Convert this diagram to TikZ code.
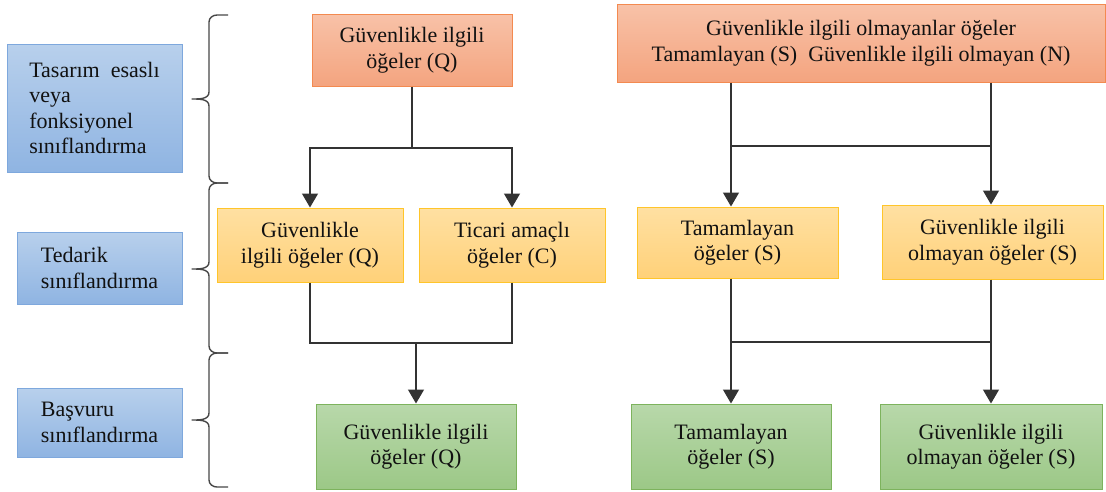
\documentclass[tikz,border=0pt]{standalone}
\usepackage{fontspec}
\setmainfont{Liberation Serif}
\usetikzlibrary{arrows.meta}
\definecolor{txt}{HTML}{111111}
\definecolor{ln}{HTML}{333333}
\definecolor{BlueTop}{HTML}{B8D0EC}
\definecolor{BlueBot}{HTML}{8FB4E2}
\definecolor{BlueBord}{HTML}{7EA8DD}
\definecolor{OrTop}{HTML}{F8C2A8}
\definecolor{OrBot}{HTML}{F4A47F}
\definecolor{OrBord}{HTML}{F38A50}
\definecolor{YeTop}{HTML}{FFE0A2}
\definecolor{YeBot}{HTML}{FFD179}
\definecolor{YeBord}{HTML}{FFC52A}
\definecolor{GrTop}{HTML}{B8D8AA}
\definecolor{GrBot}{HTML}{9CC887}
\definecolor{GrBord}{HTML}{7DB35D}
\tikzset{
  x=1pt, y=-1pt,
  box/.style={draw, line width=1pt, inner sep=0pt, align=center, text=txt,
    font=\fontsize{22}{25.5}\selectfont},
  bluebox/.style={box, draw=BlueBord, top color=BlueTop, bottom color=BlueBot, align=left},
  orangebox/.style={box, draw=OrBord, top color=OrTop, bottom color=OrBot},
  yellowbox/.style={box, draw=YeBord, top color=YeTop, bottom color=YeBot},
  greenbox/.style={box, draw=GrBord, top color=GrTop, bottom color=GrBot},
  conn/.style={draw=ln, line width=1.3pt},
  arr/.style={conn, -{Triangle[width=16pt,length=14pt]}},
  bracestyle/.style={draw=ln!90, line width=1.4pt, line join=round}
}
\begin{document}
\begin{tikzpicture}
\useasboundingbox (0,0) rectangle (1106,491);
\fill[white] (0,0) rectangle (1106,491);
% left classification boxes
\node[bluebox, minimum width=175pt, minimum height=128pt] (B1) at (94.5,108) {Tasarım\ \ esaslı\\veya\\fonksiyonel\\sınıflandırma};
\node[bluebox, minimum width=165pt, minimum height=72pt] (B2) at (99.5,268) {Tedarik\\sınıflandırma};
\node[bluebox, minimum width=165pt, minimum height=69pt] (B3) at (99.5,422.5) {Başvuru\\sınıflandırma};
% braces
\draw[bracestyle] (228,15) -- (217,15) to[out=180,in=90] (209,22) -- (209,92) to[out=-90,in=0] (192,99) to[out=0,in=90] (209,106) -- (209,176) to[out=-90,in=180] (217,183) -- (228,183);
\draw[bracestyle] (228,183) -- (217,183) to[out=180,in=90] (209,190) -- (209,262) to[out=-90,in=0] (192,269) to[out=0,in=90] (209,276) -- (209,346) to[out=-90,in=180] (217,353) -- (228,353);
\draw[bracestyle] (228,353) -- (217,353) to[out=180,in=90] (209,360) -- (209,413) to[out=-90,in=0] (192,420) to[out=0,in=90] (209,427) -- (209,480) to[out=-90,in=180] (217,487) -- (228,487);
% top row
\node[orangebox, minimum width=200pt, minimum height=72pt] (O1) at (412,50) {Güvenlikle ilgili\\öğeler (Q)};
\node[orangebox, minimum width=488pt, minimum height=78pt] (O2) at (861,43) {Güvenlikle ilgili olmayanlar öğeler\\Tamamlayan (S)\ \ Güvenlikle ilgili olmayan (N)};
% middle row
\node[yellowbox, minimum width=186pt, minimum height=74pt] (Y1) at (310,245) {Güvenlikle\\ilgili öğeler (Q)};
\node[yellowbox, minimum width=186pt, minimum height=74pt] (Y2) at (512,245) {Ticari amaçlı\\öğeler (C)};
\node[yellowbox, minimum width=201pt, minimum height=71pt] (Y3) at (737.5,242.5) {Tamamlayan\\öğeler (S)};
\node[yellowbox, minimum width=221pt, minimum height=74pt] (Y4) at (992.5,242) {Güvenlikle ilgili\\olmayan öğeler (S)};
% bottom row
\node[greenbox, minimum width=200pt, minimum height=85pt] (G1) at (416,446.5) {Güvenlikle ilgili\\öğeler (Q)};
\node[greenbox, minimum width=200pt, minimum height=85pt] (G2) at (731,446.5) {Tamamlayan\\öğeler (S)};
\node[greenbox, minimum width=222pt, minimum height=85pt] (G3) at (991,446.5) {Güvenlikle ilgili\\olmayan öğeler (S)};
% connectors left
\coordinate (j1) at (412,148);
\draw[conn] (O1.south) -- (j1);
\draw[arr] (j1) -| (Y1.north);
\draw[arr] (j1) -| (Y2.north);
\coordinate (j2) at (416,343);
\draw[conn] (Y1.south) |- (j2);
\draw[conn] (Y2.south) |- (j2);
\draw[arr] (j2) -- (G1.north);
% connectors right
\draw[arr] (O2.south -| G2.north) -- (Y3.north -| G2.north);
\draw[arr] (O2.south -| G3.north) -- (Y4.north -| G3.north);
\coordinate (h1) at (731,146);
\coordinate (h2) at (991,146);
\draw[conn] (h1) -- (h2);
\draw[arr] (Y3.south -| G2.north) -- (G2.north);
\draw[arr] (Y4.south -| G3.north) -- (G3.north);
\coordinate (h3) at (731,342);
\coordinate (h4) at (991,342);
\draw[conn] (h3) -- (h4);
\end{tikzpicture}
\end{document}
